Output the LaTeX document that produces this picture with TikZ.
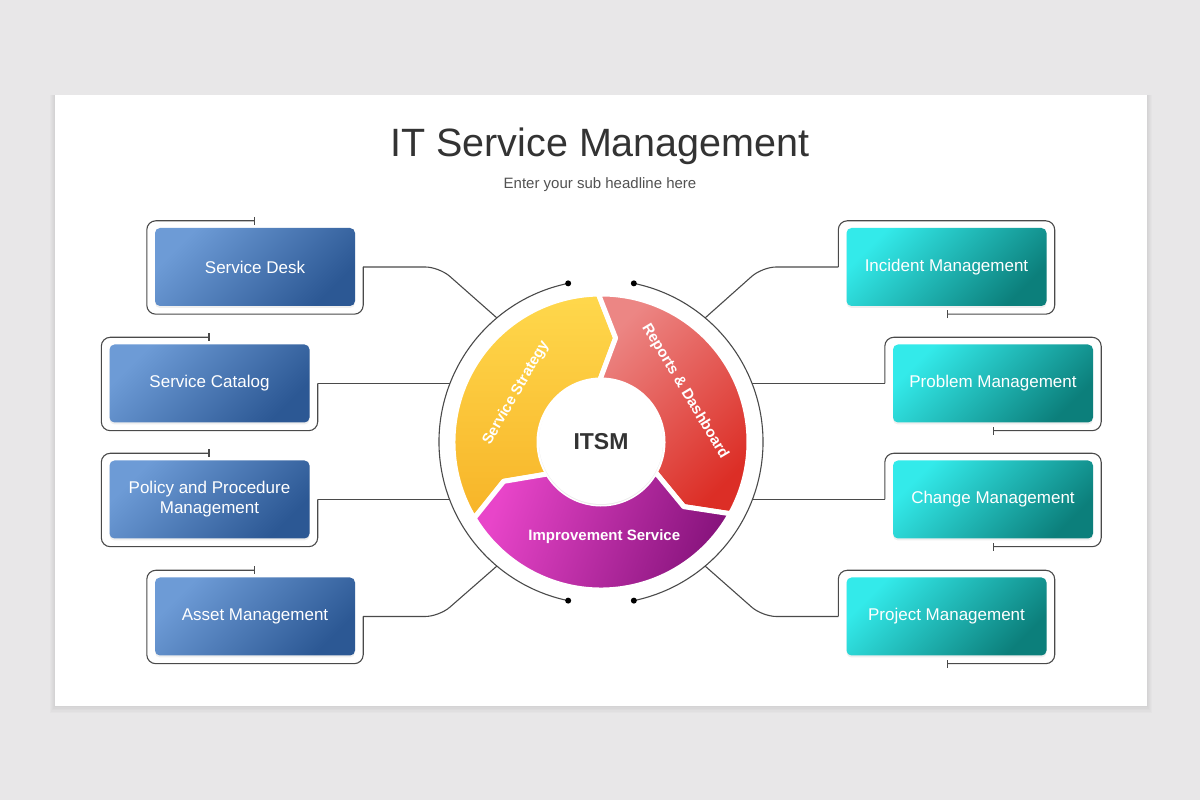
\documentclass[tikz,border=0pt]{standalone}
\usepackage{fontspec}
\setmainfont{Liberation Sans}
\usetikzlibrary{arrows.meta, calc, shadows}

\definecolor{pagegray}{HTML}{E8E7E8}
\definecolor{inkgray}{HTML}{333333}
\definecolor{wiregray}{HTML}{4A4A4A}
\definecolor{bluelight}{HTML}{6D9BD6}
\definecolor{bluedark}{HTML}{2C5894}
\definecolor{teallight}{HTML}{33EAEA}
\definecolor{tealdark}{HTML}{0C7F7B}
\definecolor{yellowlight}{HTML}{FFD84C}
\definecolor{yellowdark}{HTML}{F7B428}
\definecolor{redlight}{HTML}{EC8684}
\definecolor{reddark}{HTML}{DC2E26}
\definecolor{purplelight}{HTML}{E845C9}
\definecolor{purpledark}{HTML}{84127A}

% one arrow-shaped part of the ring: start angle, end angle, shading
\newcommand{\ringpart}[3]{%
  \shadedraw[#3, draw=white, line width=5pt, line join=round]
    ($(C)+(#1:148)$) arc[start angle=#1, end angle=#2, radius=148]
    -- ($(C)+(#2-9:105)$) -- ($(C)+(#2:62)$)
    arc[start angle=#2, end angle=#1, radius=62]
    -- ($(C)+(#1-9:105)$) -- cycle;}

\begin{document}
\begin{tikzpicture}
        [x=1pt, y=1pt,
        leftbox/.style={rectangle, rounded corners=5pt,
        minimum width=200pt, minimum height=78pt,
        text=white, align=center,
        font=\fontsize{17}{20}\selectfont,
        left color=bluelight, right color=bluedark, shading angle=45,
        drop shadow={opacity=0.12, shadow xshift=0pt, shadow yshift=-2pt}},
        rightbox/.style={leftbox,
        left color=teallight, right color=tealdark, shading angle=45},
        frame/.style={draw=wiregray, line width=1.1pt, rounded corners=9pt},
        wire/.style={draw=wiregray, line width=1.1pt, rounded corners=14pt},
        ring/.style={draw=wiregray, line width=1.1pt},
        partlabel/.style={text=white, font=\bfseries\fontsize{15}{18}\selectfont}]
        \useasboundingbox (0,0) rectangle (1200,800);
        \fill[pagegray] (0,0) rectangle (1200,800);
        % soft shadow under the slide
        \foreach \s in {1,...,5}
            \fill[black, opacity=0.015] (55-\s,94-1.5*\s) rectangle (1147+\s,705);
        \fill[white] (55,94) rectangle (1147,705);

        % heading
        \node[anchor=base, text=inkgray, font=\fontsize{39.5}{46}\selectfont]
            (title) at (600,643) {IT Service Management};
        \node[anchor=base, text=inkgray!85, font=\fontsize{15}{18}\selectfont]
            (subhead) at (600,611) {Enter your sub headline here};

        % ring
        \coordinate (C) at (601,358);
        \ringpart{211}{91}{top color=yellowlight, bottom color=yellowdark}
        \ringpart{91}{-29}{left color=redlight, right color=reddark, shading angle=45}
        \ringpart{-29}{-149}{left color=purplelight, right color=purpledark, shading angle=70}
        \node[circle, fill=white, minimum size=124pt, text=inkgray,
            font=\bfseries\fontsize{23}{26}\selectfont,
            drop shadow={opacity=0.15, shadow xshift=0pt, shadow yshift=-1pt}]
            (hub) at (C) {ITSM};
        \node[partlabel, rotate=60] (strategy) at ($(C)+(150:98)$) {Service Strategy};
        \node[partlabel, rotate=-59] (reports) at ($(C)+(31:98)$) {Reports \& Dashboard};
        \node[partlabel] (improve) at ($(C)+(-88:95)$) {Improvement Service};

        % outer circle, open at top and bottom
        \coordinate (dtl) at ($(C)+(101.7:162)$);
        \coordinate (dbl) at ($(C)+(258.3:162)$);
        \coordinate (dtr) at ($(C)+(78.3:162)$);
        \coordinate (dbr) at ($(C)+(-78.3:162)$);
        \draw[ring] (dtl) arc[start angle=101.7, end angle=258.3, radius=162];
        \draw[ring] (dtr) arc[start angle=78.3, end angle=-78.3, radius=162];
        \foreach \d in {dtl, dbl, dtr, dbr}
            \fill[black] (\d) circle[radius=3pt];

        % where the wires meet the circle
        \coordinate (pdesk) at ($(C)+(130:162)$);
        \coordinate (pcat) at ($(C)+(158.8:162)$);
        \coordinate (ppol) at ($(C)+(201.2:162)$);
        \coordinate (passet) at ($(C)+(230:162)$);
        \coordinate (pinc) at ($(C)+(50:162)$);
        \coordinate (pprob) at ($(C)+(21.2:162)$);
        \coordinate (pchg) at ($(C)+(-21.2:162)$);
        \coordinate (pproj) at ($(C)+(-50:162)$);

        % left column
        \node[leftbox] (desk) at (255,533) {Service Desk};
        \node[leftbox] (catalog) at (209.5,416.5) {Service Catalog};
        \node[leftbox] (policy) at (209.5,300.5) {Policy and Procedure\\Management};
        \node[leftbox] (asset) at (255,183.5) {Asset Management};
        % right column
        \node[rightbox] (incident) at (946.5,533) {Incident Management};
        \node[rightbox] (problem) at (993,416.5) {Problem Management};
        \node[rightbox] (change) at (993,300.5) {Change Management};
        \node[rightbox] (project) at (946.5,183.5) {Project Management};

        \foreach \b in {desk, catalog, policy, asset}
            \draw[frame, {Bar[width=8pt]}-] ([yshift=7pt]\b.north)
                -| ([xshift=-8pt]\b.west) |- ([yshift=-8pt]\b.south)
                -| ([xshift=8pt]\b.east);
        \foreach \b in {incident, problem, change, project}
            \draw[frame, -{Bar[width=8pt]}] ([xshift=-8pt]\b.west)
                |- ([yshift=7pt]\b.north) -| ([xshift=8pt]\b.east)
                |- ([yshift=-8pt]\b.south);

        \begin{scope}[every path/.style=wire]
            \path ([xshift=8pt]desk.east) -- ++(76,0) -- (pdesk);
            \path ([xshift=8pt]catalog.east) -- (catalog.east -| pcat);
            \path ([xshift=8pt]policy.east) -- (policy.east -| ppol);
            \path ([xshift=8pt]asset.east) -- ++(76,0) -- (passet);
            \path ([xshift=-8pt]incident.west) -- ++(-76,0) -- (pinc);
            \path ([xshift=-8pt]problem.west) -- (problem.west -| pprob);
            \path ([xshift=-8pt]change.west) -- (change.west -| pchg);
            \path ([xshift=-8pt]project.west) -- ++(-76,0) -- (pproj);
        \end{scope}
    \end{tikzpicture}
\end{document}
